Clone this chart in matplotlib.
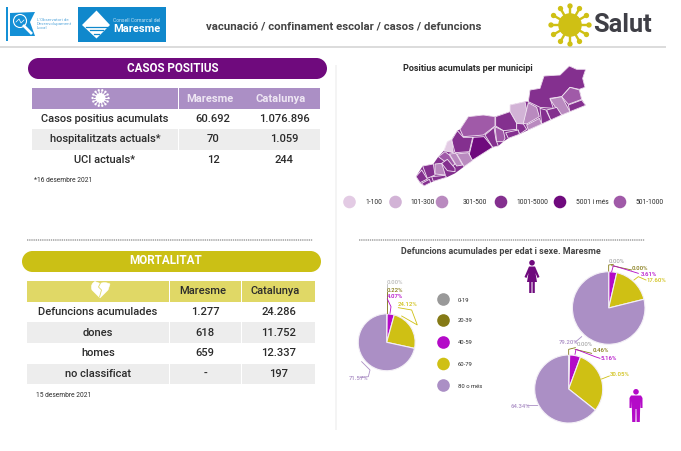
"""
Panell Salut Maresme: taules de casos i mortalitat, mapa per municipi i pastissos de defuncions
"""

import numpy as np
import matplotlib
matplotlib.use('Agg')
import matplotlib.pyplot as plt
from matplotlib.patches import FancyBboxPatch, Rectangle, Circle, Polygon, PathPatch
from matplotlib.path import Path

plt.rcParams['font.family'] = ['Roboto', 'DejaVu Sans']

W, H = 681, 451

# ── Dades ──
casos_cols = ['Maresme', 'Catalunya']
casos_rows = ['Casos positius acumulats', 'hospitalitzats actuals*', 'UCI actuals*']
casos_maresme = ['60.692', '70', '12']
casos_catalunya = ['1.076.896', '1.059', '244']

mort_cols = ['Maresme', 'Catalunya']
mort_rows = ['Defuncions acumulades', 'dones', 'homes', 'no classificat']
mort_maresme = ['1.277', '618', '659', '-']
mort_catalunya = ['24.286', '11.752', '12.337', '197']

edats = ['0-19', '20-39', '40-59', '60-79', '80 o més']
edat_colors = ['#999999', '#857a16', '#b40ac8', '#cfc014', '#ab8fc5']
total_pct = [0.00, 0.22, 4.07, 24.12, 71.57]
dones_pct = [0.00, 0.00, 3.61, 17.60, 79.20]
homes_pct = [0.00, 0.46, 5.16, 30.05, 64.34]

map_labels = ['1-100', '101-300', '301-500', '1001-5000', '5001 i més', '501-1000']
map_colors = ['#e3cbe4', '#d2b3d6', '#b98abf', '#84308f', '#6f0a7d', '#a05aa8']

# contorn de la comarca, sota els municipis
comarca = [(228,530),(248,498),(280,492),(295,470),(312,452),(335,418),(352,392),(360,388),(385,350),(430,345),
           (465,350),(510,335),(510,315),(555,305),(565,305),(570,270),(600,265),(612,228),(660,225),(688,198),
           (710,208),(737,208),(728,235),(735,262),(718,268),(725,298),(737,316),(690,335),(665,345),(632,360),
           (605,372),(565,390),(540,402),(505,415),(490,425),(475,438),(458,442),(395,482),(372,500),(345,520),
           (320,532),(280,544),(252,558),(240,548)]

# municipis: classe de color i contorn (coordenades del mapa)
municipis = [
    (3, [(565,305),(570,270),(600,265),(612,228),(660,225),(688,198),(710,208),(737,208),(728,235),(735,262),(718,268),(690,262),(665,290),(630,295),(640,325),(600,322)]),
    (5, [(665,290),(690,262),(718,270),(725,298),(685,313)]),
    (2, [(630,297),(665,290),(690,335),(665,345),(645,320)]),
    (3, [(685,315),(725,300),(737,316),(690,335)]),
    (3, [(640,325),(650,322),(665,345),(632,360),(620,330)]),
    (3, [(600,325),(618,330),(632,360),(605,372)]),
    (1, [(510,315),(555,305),(562,340),(550,370),(530,370),(510,335)]),
    (2, [(565,308),(590,322),(598,350),(560,372),(550,370)]),
    (2, [(560,375),(598,355),(605,372),(565,390)]),
    (3, [(467,350),(510,335),(530,370),(530,388),(490,392),(467,378)]),
    (3, [(530,370),(550,372),(560,388),(540,402),(530,388)]),
    (3, [(497,398),(535,390),(538,403),(505,415)]),
    (5, [(360,388),(385,350),(430,345),(465,350),(465,378),(430,405),(370,410)]),
    (5, [(465,380),(490,392),(495,415),(490,425),(470,425)]),
    (3, [(435,405),(462,382),(468,420),(475,438),(458,442)]),
    (4, [(400,412),(432,410),(458,442),(395,482),(388,462)]),
    (3, [(335,420),(352,392),(370,412),(398,412),(388,455),(345,458)]),
    (0, [(312,452),(322,425),(335,418),(340,458)]),
    (2, [(350,462),(385,458),(398,482),(372,500),(360,478)]),
    (2, [(328,462),(348,460),(368,495),(350,498)]),
    (5, [(295,470),(315,455),(328,465),(345,492),(335,500)]),
    (3, [(305,490),(322,478),(345,505),(345,515),(322,512)]),
    (2, [(285,492),(305,490),(316,525),(285,522)]),
    (3, [(248,498),(280,492),(285,525),(262,535)]),
    (3, [(228,530),(245,510),(262,537),(240,548)]),
    (3, [(245,550),(268,538),(272,548),(252,558)]),
    (3, [(275,530),(315,526),(320,532),(280,544)]),
]

# ── Figura i eix en píxels ──
fig = plt.figure(figsize=(W / 100, H / 100), dpi=100, facecolor='white')
ax = fig.add_axes([0, 0, 1, 1], zorder=1)
ax.set_xlim(0, W)
ax.set_ylim(H, 0)
ax.axis('off')

TXT = '#2b2b2b'


def pill(x0, y0, x1, y1, color):
    r = (y1 - y0) / 2
    ax.add_patch(Rectangle((x0 + r, y0), x1 - x0 - 2 * r, y1 - y0, fc=color, ec='none'))
    ax.add_patch(Circle((x0 + r, y0 + r), r, fc=color, ec='none'))
    ax.add_patch(Circle((x1 - r, y0 + r), r, fc=color, ec='none'))


def rect(x0, y0, x1, y1, color):
    ax.add_patch(Rectangle((x0, y0), x1 - x0, y1 - y0, fc=color, ec='none'))


def person(cx, top, h, color, woman):
    s = h / 33.0
    ax.add_patch(Circle((cx, top + 2.8 * s), 2.8 * s, fc=color, ec='none'))
    if woman:
        body = [(-3, 6.5), (3, 6.5), (7.5, 17), (5.5, 18), (3.5, 13), (5, 22), (2.8, 22), (2.8, 33),
                (0.5, 33), (0.5, 22), (-0.5, 22), (-0.5, 33), (-2.8, 33), (-2.8, 22), (-5, 22), (-3.5, 13), (-5.5, 18), (-7.5, 17)]
    else:
        body = [(-5, 6.5), (5, 6.5), (6.5, 9), (6.5, 19), (4.5, 19), (4.3, 12), (3.8, 33), (0.6, 33), (0.4, 20),
                (-0.4, 20), (-0.6, 33), (-3.8, 33), (-4.3, 12), (-4.5, 19), (-6.5, 19), (-6.5, 9)]
    ax.add_patch(Polygon([(cx + a * s, top + b * s) for a, b in body], fc=color, ec='none'))


def sun(cx, cy, r, color, n=12):
    ax.add_patch(Circle((cx, cy), r * 0.62, fc=color, ec='none'))
    for a in np.linspace(0, 2 * np.pi, n, endpoint=False):
        x, y = cx + r * np.cos(a), cy + r * np.sin(a)
        ax.plot([cx, x], [cy, y], color=color, lw=r * 0.09, solid_capstyle='butt')
        ax.add_patch(Circle((x, y), r * 0.14, fc=color, ec='none'))


def pie(values, cx, cy, r):
    pa = fig.add_axes([(cx - r) / W, 1 - (cy + r) / H, 2 * r / W, 2 * r / H], zorder=0)
    pa.pie(values, colors=edat_colors, startangle=90, counterclock=False, radius=1,
           wedgeprops=dict(edgecolor='#f3eff6', linewidth=0.8))
    pa.set_xlim(-1.02, 1.02)
    pa.set_ylim(-1.02, 1.02)


def leader(points, color, label, lx, ly, ox, oy):
    # coordenades del retall ampliat 3x → píxels
    xs = [ox + p[0] / 3 for p in points]
    ys = [oy + p[1] / 3 for p in points]
    ax.plot(xs, ys, color=color, lw=0.6, solid_joinstyle='miter')
    ax.text(ox + lx / 3, oy + ly / 3, label, color=color, fontsize=4.3, va='center', ha='left', fontweight='medium')


# ── Capçalera ──
rect(6, 7, 7.5, 41, '#1490d6')
ax.add_patch(Polygon([(10, 13), (35, 12), (30, 22), (35, 36), (10, 36)], fc='#1490d6', ec='none'))
ax.add_patch(Circle((20, 21), 6.5, fc='#1490d6', ec='white', lw=0.8))
ax.plot([24, 31], [26, 33], color='white', lw=2)
ax.plot([16, 19, 21, 24], [22, 19, 23, 20], color='white', lw=0.5)
for i, t in enumerate(["L'Observatori de", 'Desenvolupament', 'Local']):
    ax.text(37, 20 + i * 4.2, t, fontsize=3.2, color='#5aa9dc', va='center')

rect(78, 7, 166, 42, '#1088cc')
ax.add_patch(Polygon([(82, 25), (96.5, 10.5), (110, 25), (96.5, 38.5)], fc='white', ec='none'))
for yy in [26.5, 30, 33.5]:
    ax.plot([85 + (yy - 26) * 1.2, 108 - (yy - 26) * 1.2], [yy, yy], color='#1088cc', lw=0.9)
ax.text(113, 20, 'Consell Comarcal del', fontsize=3.6, color='#bfe0f3', va='center')
ax.text(113, 28.5, 'Maresme', fontsize=8, color='white', fontweight='bold', va='center')

rect(0, 46, 666, 48, '#dcdcdc')
ax.text(344, 26, 'vacunació / confinament escolar / casos / defuncions', fontsize=8.2,
        color='#444444', ha='center', va='center', fontweight='bold')
sun(570, 25, 19, '#cfc014')
ax.text(593, 25.5, 'Salut', fontsize=18.3, fontweight='bold', color='#3f3f46', va='center')

rect(334.5, 65, 336.5, 430, '#f4f4f4')

# ── Taula casos positius ──
pill(28, 58, 327, 79, '#6f0a7d')
ax.text(173, 68, 'CASOS POSITIUS', fontsize=8.4, fontweight='bold', color='white', ha='center', va='center')
rect(32, 88, 178, 109, '#ab8fc5')
rect(179, 88, 320, 109, '#ab8fc5')
sun(100.5, 98, 8, 'white', n=14)
ax.text(210, 98.5, casos_cols[0], fontsize=8, fontweight='bold', color='#eee6f3', ha='center', va='center')
ax.text(281, 98.5, casos_cols[1], fontsize=8, fontweight='bold', color='#eee6f3', ha='center', va='center')
casos_y = [119.5, 139.5, 160]
rect(32, 129, 178, 150, '#ededed')
rect(179, 129, 320, 150, '#ededed')
for y, lab, m, c in zip(casos_y, casos_rows, casos_maresme, casos_catalunya):
    ax.text(105, y, lab, fontsize=8, color=TXT, ha='center', va='center', fontweight='medium')
    ax.text(213, y, m, fontsize=8, color=TXT, ha='center', va='center', fontweight='medium')
    ax.text(284, y, c, fontsize=8, color=TXT, ha='center', va='center', fontweight='medium')
ax.text(34, 180.5, '*16 desembre 2021', fontsize=4.8, color=TXT, va='center')

# ── Taula mortalitat ──
ax.plot([27, 313], [240, 240], color='#a8a8a8', lw=1.2, ls=(0, (0.8, 0.5)))
pill(22, 251, 321, 272, '#cbc015')
ax.text(165.5, 261, 'MORTALITAT', fontsize=8.4, fontweight='bold', color='white', ha='center', va='center')
col_edges = [(27, 169), (170, 241), (242, 315)]
for x0, x1 in col_edges:
    rect(x0, 281, x1, 302, '#e0d866')
    rect(x0, 322, x1, 343, '#ededed')
    rect(x0, 364, x1, 384, '#ededed')
# cor trencat
heart = Path([(100, 298), (92, 290), (90, 284), (95, 281.5), (100, 283.5), (105, 281.5), (110, 284), (108, 290), (100, 298)],
             [Path.MOVETO, Path.LINETO, Path.CURVE3, Path.CURVE3, Path.LINETO, Path.CURVE3, Path.CURVE3, Path.LINETO, Path.CLOSEPOLY])
ax.add_patch(PathPatch(heart, fc='white', ec='white', lw=0.4))
ax.plot([100.5, 98.5, 101.5, 99.5], [283, 287, 290, 297], color='#e0d866', lw=0.6)
ax.text(202.5, 291, mort_cols[0], fontsize=8, fontweight='medium', color=TXT, ha='center', va='center')
ax.text(275.5, 291, mort_cols[1], fontsize=8, fontweight='medium', color=TXT, ha='center', va='center')
mort_y = [312, 332.5, 353, 374]
for y, lab, m, c in zip(mort_y, mort_rows, mort_maresme, mort_catalunya):
    ax.text(98, y, lab, fontsize=8, color=TXT, ha='center', va='center', fontweight='medium')
    ax.text(205, y, m, fontsize=8, color=TXT, ha='center', va='center', fontweight='medium')
    ax.text(279, y, c, fontsize=8, color=TXT, ha='center', va='center', fontweight='medium')
ax.text(36, 395.5, '15 desembre 2021', fontsize=4.8, color=TXT, va='center')

# ── Mapa ──
ax.text(467.5, 68.5, 'Positius acumulats per municipi', fontsize=6.5, fontweight='bold', color=TXT, ha='center', va='center')
ax.add_patch(Polygon([(340 + x / 3, y / 3) for x, y in comarca], fc=map_colors[3], ec='none'))
for cls, contorn in municipis:
    pts = [(340 + x / 3, y / 3) for x, y in contorn]
    ax.add_patch(Polygon(pts, fc=map_colors[cls], ec='#f2e6f3', lw=0.6, joinstyle='round'))
map_cx = [349.5, 395.5, 442, 501, 560, 620]
map_tx = [365, 410, 463, 516, 576, 636]
for cx, tx, col, lab in zip(map_cx, map_tx, map_colors, map_labels):
    ax.add_patch(Circle((cx, 202), 6.3, fc=col, ec='none'))
    ax.text(tx, 202.5, lab, fontsize=4.9, color=TXT, va='center')

# ── Pastissos ──
ax.plot([359, 645], [240, 240], color='#a8a8a8', lw=1.2, ls=(0, (0.8, 0.5)))
ax.text(501, 252, 'Defuncions acumulades per edat i sexe. Maresme', fontsize=6.4, fontweight='bold',
        color='#444444', ha='center', va='center')

pie(total_pct, 386.7, 342.3, 29)
pie(dones_pct, 608.7, 308, 37)
pie(homes_pct, 568.7, 389, 34.7)

for y, col, lab in zip([299.5, 320.5, 342.5, 364, 385.5], edat_colors, edats):
    ax.add_patch(Circle((443.5, y), 6.3, fc=col, ec='none'))
    ax.text(458, y + 0.5, lab, fontsize=4.2, color=TXT, va='center')

person(532, 260, 33, '#6f0a7d', True)
person(636, 389, 33, '#b40ac8', False)

ox, oy = 340, 235
leader([(140, 235), (140, 148)], '#bbbbbb', f'{total_pct[0]:.2f}%', 141, 141, ox, oy)
leader([(140, 235), (140, 170)], edat_colors[1], f'{total_pct[1]:.2f}%', 141, 165, ox, oy)
leader([(150, 235), (153, 215), (142, 192)], edat_colors[2], f'{total_pct[2]:.2f}%', 141, 186, ox, oy)
leader([(185, 243), (232, 270), (215, 225), (175, 218)], edat_colors[3], f'{total_pct[3]:.2f}%', 173, 210, ox, oy)
leader([(65, 380), (90, 405), (85, 425), (60, 428)], edat_colors[4], f'{total_pct[4]:.2f}%', 27, 432, ox, oy)

ox, oy = 510, 235
leader([(296, 108), (296, 90), (310, 88)], edat_colors[1], '', 296, 79, ox, oy)
ax.text(ox + 296 / 3, oy + 79 / 3, f'{dones_pct[0]:.2f}%', color='#999999', fontsize=4.3, va='center')
leader([(305, 92), (365, 105)], edat_colors[1], f'{dones_pct[1]:.2f}%', 366, 100, ox, oy)
leader([(305, 110), (310, 92), (385, 115)], edat_colors[2], f'{dones_pct[2]:.2f}%', 392, 117, ox, oy)
leader([(372, 135), (385, 125), (408, 135)], edat_colors[3], f'{dones_pct[3]:.2f}%', 410, 138, ox, oy)
leader([(215, 305), (195, 322)], edat_colors[4], f'{dones_pct[4]:.2f}%', 147, 324, ox, oy)

leader([(176, 358), (176, 343), (196, 338)], edat_colors[1], '', 200, 330, ox, oy)
ax.text(ox + 200 / 3, oy + 330 / 3, f'{homes_pct[0]:.2f}%', color='#999999', fontsize=4.3, va='center')
leader([(195, 343), (245, 355)], edat_colors[1], f'{homes_pct[1]:.2f}%', 247, 348, ox, oy)
leader([(195, 358), (198, 343), (255, 365), (270, 370)], edat_colors[2], f'{homes_pct[2]:.2f}%', 271, 369, ox, oy)
leader([(275, 432), (298, 423)], edat_colors[3], f'{homes_pct[3]:.2f}%', 299, 420, ox, oy)
leader([(80, 510), (50, 510)], edat_colors[4], f'{homes_pct[4]:.2f}%', 3, 513, ox, oy)

fig.savefig('out.png', dpi=100, facecolor='white')
